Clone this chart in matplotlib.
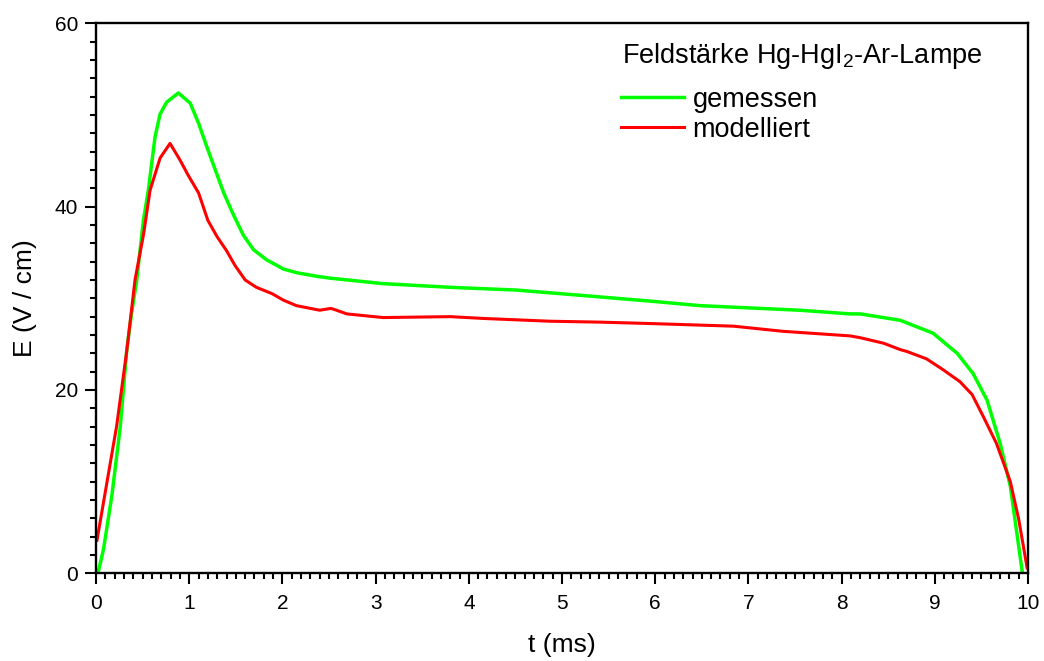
import matplotlib.pyplot as plt
from matplotlib.ticker import MultipleLocator

plt.rcParams['font.family'] = ['Liberation Sans', 'DejaVu Sans']
plt.rcParams['mathtext.default'] = 'regular'

# gemessen (green)
t_mess = [0.02, 0.08, 0.17, 0.26, 0.33, 0.38, 0.437, 0.508, 0.561, 0.597, 0.633, 0.687,
          0.758, 0.883, 1.01, 1.10, 1.19, 1.28, 1.37, 1.47, 1.58, 1.69, 1.83, 2.01,
          2.15, 2.37, 2.51, 3.08, 3.80, 4.51, 5.23, 5.94, 6.48, 7.55, 8.09, 8.20, 8.63,
          8.73, 8.98, 9.24, 9.41, 9.56, 9.70, 9.81, 9.88, 9.94]
E_mess = [0.0, 2.6, 8.5, 16.0, 24.4, 28.3, 32.0, 38.5, 41.8, 44.7, 47.6, 50.1,
          51.4, 52.4, 51.3, 49.1, 46.5, 44.0, 41.5, 39.2, 36.9, 35.3, 34.2, 33.2,
          32.8, 32.4, 32.2, 31.6, 31.2, 30.9, 30.3, 29.7, 29.2, 28.7, 28.3, 28.3, 27.6,
          27.2, 26.2, 24.0, 21.8, 18.9, 14.2, 9.5, 4.4, 0.0]

# modelliert (red)
t_mod = [0.01, 0.22, 0.33, 0.418, 0.51, 0.58, 0.687, 0.794, 0.90, 0.99, 1.10, 1.20, 1.30,
         1.40, 1.49, 1.60, 1.72, 1.89, 2.01, 2.15, 2.40, 2.52, 2.58, 2.69, 3.08, 3.80,
         4.16, 4.87, 5.41, 5.94, 6.84, 7.37, 8.09, 8.20, 8.45, 8.63, 8.70, 8.91, 9.09,
         9.27, 9.40, 9.52, 9.66, 9.81, 9.90, 9.99]
E_mod = [3.6, 16.0, 24.3, 32.0, 37.0, 41.8, 45.3, 46.9, 45.1, 43.4, 41.5, 38.5, 36.7,
         35.2, 33.6, 32.0, 31.2, 30.5, 29.8, 29.2, 28.7, 28.9, 28.7, 28.3, 27.9, 28.0,
         27.8, 27.5, 27.4, 27.25, 26.96, 26.4, 25.9, 25.7, 25.1, 24.4, 24.2, 23.4, 22.2,
         20.9, 19.5, 17.1, 14.2, 10.0, 5.9, 0.6]

fig = plt.figure(figsize=(10.44, 6.61), dpi=100)
ax = fig.add_axes([0.092, 0.1327, 0.8927, 0.832])

ax.plot(t_mess, E_mess, color='#00ff00', lw=2.5, label='gemessen')
ax.plot(t_mod, E_mod, color='#ff0000', lw=2.2, label='modelliert')

ax.set_xlim(0, 10)
ax.set_ylim(0, 60)
ax.xaxis.set_major_locator(MultipleLocator(1))
ax.xaxis.set_minor_locator(MultipleLocator(0.1))
ax.yaxis.set_major_locator(MultipleLocator(20))
ax.yaxis.set_minor_locator(MultipleLocator(2))

for s in ax.spines.values():
    s.set_linewidth(1.7)
ax.tick_params(which='major', direction='out', length=8, width=1.5, labelsize=15, pad=5)
ax.tick_params(axis='x', which='major', pad=7)
ax.tick_params(which='minor', direction='out', length=4.5, width=1.5)

ax.set_xlabel('t (ms)', fontsize=19, labelpad=14)
ax.set_ylabel('E (V / cm)', fontsize=19, labelpad=13)

# legend title drawn separately (bigger gap to the entries than the legend's own)
ax.text(0.564, 0.927, 'Feldstärke Hg-HgI$_2$-Ar-Lampe', transform=ax.transAxes,
        fontsize=19.5, ha='left', va='baseline')
leg = ax.legend(loc='upper left', bbox_to_anchor=(0.549, 0.9095), frameon=False,
                fontsize=19.5, handlelength=2.3, handletextpad=0.33,
                labelspacing=0.15, borderpad=0)

fig.savefig('out.png', dpi=100)
